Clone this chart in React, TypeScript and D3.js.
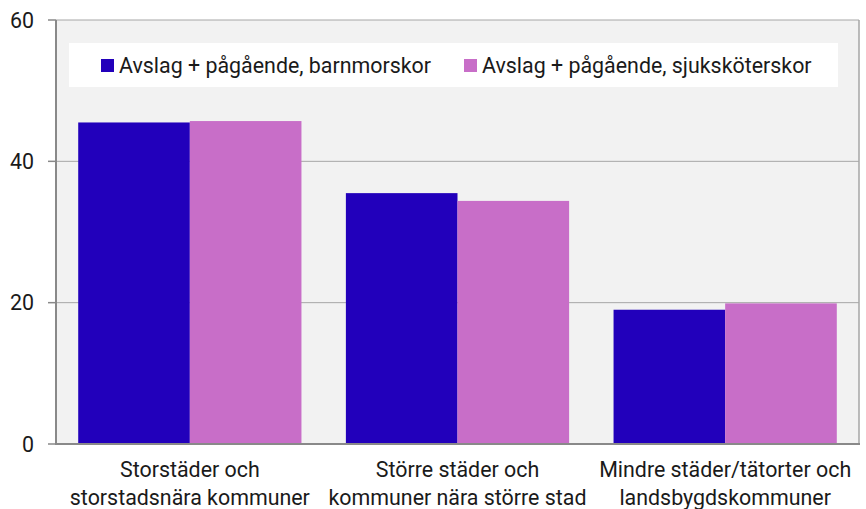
import React from "react";
import * as d3 from "d3";

const categories = [
  ["Storstäder och", "storstadsnära kommuner"],
  ["Större städer och", "kommuner nära större stad"],
  ["Mindre städer/tätorter och", "landsbygdskommuner"],
];
const seriesNames = ["Avslag + pågående, barnmorskor", "Avslag + pågående, sjuksköterskor"];
const barnmorskor = [45.5, 35.5, 19.0];
const sjukskoterskor = [45.7, 34.4, 19.9];
const yTicks = [0, 20, 40, 60];
const colors = ["#2200bb", "#c86ec8"];

const W = 866, H = 509;
const M = { left: 56, right: 859, top: 20, bottom: 444 };

export default function App() {
  const x = d3.scaleBand<number>().domain([0, 1, 2]).range([M.left, M.right]).paddingInner(0.166).paddingOuter(0.083);
  const inner = d3.scaleBand<number>().domain([0, 1]).range([0, x.bandwidth()]);
  const y = d3.scaleLinear().domain([0, 60]).range([M.bottom, M.top]);
  const series = [barnmorskor, sjukskoterskor];
  const font = "Roboto, 'Noto Sans', sans-serif";
  const fs = 21.4;

  return (
    <svg width={W} height={H} style={{ position: "absolute", left: 0, top: 0, display: "block" }} fontFamily={font}>
      <rect x={0} y={0} width={W} height={H} fill="#ffffff" />
      <rect x={M.left} y={M.top} width={M.right - M.left} height={M.bottom - M.top} fill="#f2f2f2" />
      {yTicks.filter(t => t > 0).map(t => (
        <line key={t} x1={M.left} x2={M.right} y1={y(t)} y2={y(t)} stroke="#a6a6a6" strokeWidth={1} />
      ))}
      <line x1={M.right} x2={M.right} y1={M.top} y2={M.bottom} stroke="#a6a6a6" strokeWidth={1.5} />
      {series.map((vals, si) =>
        vals.map((v, ci) => (
          <rect key={`${si}-${ci}`} x={(x(ci) as number) + (inner(si) as number)} y={y(v)}
            width={inner.bandwidth()} height={y(0) - y(v)} fill={colors[si]} />
        ))
      )}
      <line x1={M.left} x2={M.left} y1={M.top} y2={M.bottom + 1} stroke="#898989" strokeWidth={2} />
      <line x1={M.left} x2={M.right + 1} y1={M.bottom} y2={M.bottom} stroke="#898989" strokeWidth={2} />
      {yTicks.map(t => (
        <g key={t}>
          <line x1={48} x2={M.left} y1={y(t)} y2={y(t)} stroke="#898989" strokeWidth={1.5} />
          <text x={34} y={y(t)} dy="0.36em" textAnchor="end" fontSize={fs} fill="#1a1a1a">{t}</text>
        </g>
      ))}
      {categories.map((lines, ci) => (
        <text key={ci} x={(x(ci) as number) + x.bandwidth() / 2} textAnchor="middle" fontSize={fs} fill="#1a1a1a">
          {lines.map((l, li) => (
            <tspan key={li} x={(x(ci) as number) + x.bandwidth() / 2} y={477 + li * 27.5}>{l}</tspan>
          ))}
        </text>
      ))}
      <rect x={69} y={43} width={769} height={44} fill="#ffffff" />
      {seriesNames.map((n, i) => {
        const lx = [101, 464][i];
        return (
          <g key={i}>
            <rect x={lx} y={59} width={13} height={13} fill={colors[i]} />
            <text x={lx + 18} y={72.5} fontSize={fs} fill="#1a1a1a">{n}</text>
          </g>
        );
      })}
    </svg>
  );
}
